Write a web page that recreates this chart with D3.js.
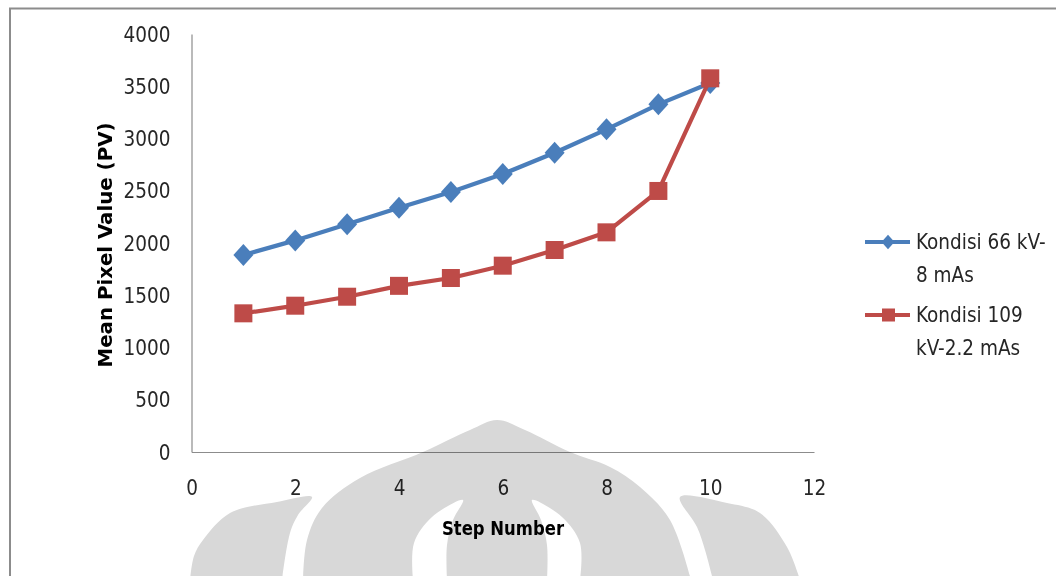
<!DOCTYPE html>
<html>
<head>
<meta charset="utf-8">
<script src="https://cdn.jsdelivr.net/npm/d3@7"></script>
<style>
  html, body { margin: 0; padding: 0; background: #fff; }
  svg { display: block; }
  text { font-family: "Liberation Sans Narrow", "DejaVu Sans Condensed", "Open Sans", sans-serif; }
</style>
</head>
<body>
<svg id="chart" width="1056" height="576"></svg>
<script>
// Step numbers and mean pixel values for the two exposure conditions
const steps = [1, 2, 3, 4, 5, 6, 7, 8, 9, 10];
const kondisi66 = [1885, 2025, 2180, 2338, 2488, 2660, 2864, 3088, 3327, 3531];
const kondisi109 = [1327, 1400, 1486, 1590, 1665, 1783, 1933, 2102, 2498, 3576];
const seriesNames = [["Kondisi 66 kV-", "8 mAs"], ["Kondisi 109", "kV-2.2 mAs"]];
const xTicks = [0, 2, 4, 6, 8, 10, 12];
const yTicks = [0, 500, 1000, 1500, 2000, 2500, 3000, 3500, 4000];

const svg = d3.select("#chart");
const W = 1056, H = 576;

// outer frame of the chart
svg.append("rect")
  .attr("x", 10).attr("y", 8.5)
  .attr("width", W + 20).attr("height", H + 20)
  .attr("fill", "#fff").attr("stroke", "#8c8c8c").attr("stroke-width", 2);

const x = d3.scaleLinear().domain([0, 12]).range([191.5, 814]);
const y = d3.scaleLinear().domain([0, 4000]).range([452, 34]);

// axes
const xAxis = svg.append("g").attr("transform", `translate(0,${y(0)})`)
  .call(d3.axisBottom(x).tickValues(xTicks).tickSize(0).tickPadding(25).tickFormat(d3.format("d")));
const yAxis = svg.append("g").attr("transform", `translate(${x(0)},0)`)
  .call(d3.axisLeft(y).tickValues(yTicks).tickSize(0).tickPadding(21).tickFormat(d3.format("d")));

[xAxis, yAxis].forEach(g => {
  g.select(".domain").attr("stroke", "#8c8c8c").attr("stroke-width", 1.2);
  g.selectAll("text").attr("font-size", 20.5).style("fill", "#262626")
    .style("font-family", '"Liberation Sans Narrow", "DejaVu Sans Condensed", sans-serif');
});
xAxis.selectAll("text").attr("dy", "0.35em").attr("y", 36);
yAxis.selectAll("text").attr("dy", "0.35em");

// axis titles
svg.append("text")
  .attr("transform", "translate(112,245) rotate(-90)")
  .attr("text-anchor", "middle")
  .attr("font-size", 20).attr("font-weight", "bold").style("fill", "#000")
  .attr("textLength", 245).attr("lengthAdjust", "spacingAndGlyphs")
  .text("Mean Pixel Value (PV)");
svg.append("text")
  .attr("x", 503).attr("y", 535)
  .attr("text-anchor", "middle")
  .attr("font-size", 20).attr("font-weight", "bold").style("fill", "#000")
  .attr("textLength", 122).attr("lengthAdjust", "spacingAndGlyphs")
  .text("Step Number");

const blue = "#4a7ebb", red = "#be4b48";
const line = d3.line().x(d => x(d[0])).y(d => y(d[1]));
const data66 = steps.map((s, i) => [s, kondisi66[i]]);
const data109 = steps.map((s, i) => [s, kondisi109[i]]);

const diamond = r => `M0,${-r * 1.1}L${r},0L0,${r * 1.1}L${-r},0Z`;

// series 1: blue line with diamonds
svg.append("path").datum(data66).attr("d", line)
  .attr("fill", "none").attr("stroke", blue).attr("stroke-width", 4.2).attr("stroke-linejoin", "round");
svg.selectAll(".m66").data(data66).enter().append("path")
  .attr("class", "m66")
  .attr("transform", d => `translate(${x(d[0])},${y(d[1])})`)
  .attr("d", diamond(10)).attr("fill", blue);

// series 2: red line with squares
svg.append("path").datum(data109).attr("d", line)
  .attr("fill", "none").attr("stroke", red).attr("stroke-width", 4.2).attr("stroke-linejoin", "round");
svg.selectAll(".m109").data(data109).enter().append("rect")
  .attr("class", "m109")
  .attr("x", d => x(d[0]) - 9).attr("y", d => y(d[1]) - 9)
  .attr("width", 18).attr("height", 18).attr("fill", red);

// legend
const legend = svg.append("g");
const legendRows = [
  { color: blue, shape: "diamond", y: 242, names: seriesNames[0] },
  { color: red, shape: "square", y: 315, names: seriesNames[1] }
];
legendRows.forEach(r => {
  legend.append("line").attr("x1", 865).attr("x2", 910).attr("y1", r.y).attr("y2", r.y)
    .attr("stroke", r.color).attr("stroke-width", 4.2);
  if (r.shape === "diamond") {
    legend.append("path").attr("transform", `translate(888,${r.y})`).attr("d", diamond(6.5)).attr("fill", r.color);
  } else {
    legend.append("rect").attr("x", 882).attr("y", r.y - 6.5).attr("width", 13).attr("height", 13).attr("fill", r.color);
  }
  r.names.forEach((t, i) => {
    legend.append("text").attr("x", 916).attr("y", r.y + i * 33).attr("dy", "0.35em")
      .attr("font-size", 20.5).style("fill", "#262626").text(t);
  });
});

// faint emblem in the lower part of the page
const emblem = svg.append("g").style("mix-blend-mode", "multiply").attr("fill", "#d8d8d8");
const curve = d3.line().curve(d3.curveCatmullRom.alpha(0.5));
// central flame with its two inner white strokes cut out
emblem.append("path")
  .attr("fill-rule", "evenodd")
  .attr("d",
    curve([[303, 580], [307, 540], [322, 508], [360, 478], [423, 452], [470, 430], [497, 420], [525, 430], [570, 452], [610, 467], [640, 487], [670, 520], [691, 580]]) + "Z" +
    curve([[413, 580], [414, 543], [432, 517], [463, 500], [453, 520], [447, 545], [447, 580]]) + "Z" +
    curve([[547, 580], [547, 545], [541, 520], [532, 500], [562, 517], [580, 543], [580, 580]]) + "Z");
// left leaf
emblem.append("path")
  .attr("d", curve([[190, 580], [194, 556], [203, 540], [230, 513], [277, 502], [312, 497], [298, 515], [290, 533], [282, 580]]) + "Z");
// right leaf
emblem.append("path")
  .attr("d", curve([[713, 580], [705, 550], [697, 527], [680, 497], [727, 503], [760, 513], [787, 547], [800, 580]]) + "Z");
</script>
</body>
</html>
